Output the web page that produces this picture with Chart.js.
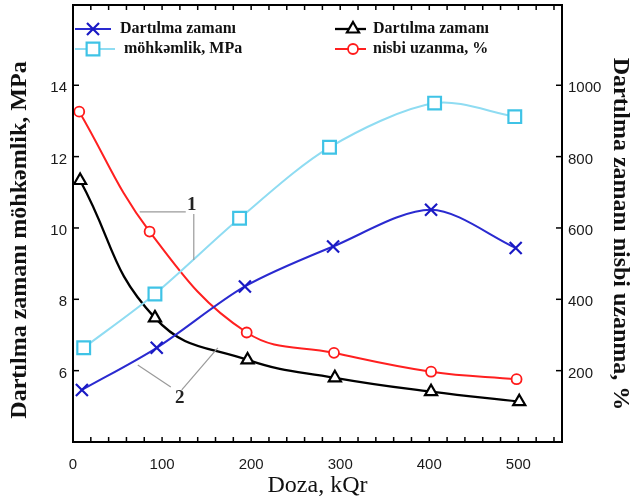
<!DOCTYPE html>
<html>
<head>
<meta charset="utf-8">
<script src="https://cdn.jsdelivr.net/npm/chart.js@4.4.0/dist/chart.umd.min.js"></script>
<style>
  html, body { margin: 0; padding: 0; background: #fff; }
  #wrap { width: 636px; height: 503px; }
</style>
</head>
<body>
<div id="wrap"><canvas id="chart" width="636" height="503"></canvas></div>
<script>
// dose (kQr) and readings for each curve
const doseBlue = [10, 94, 193, 292, 402, 497];
const strengthBlue = [5.46, 6.64, 8.36, 9.48, 10.51, 9.44];
const doseCyan = [12, 92, 187, 288, 406, 496];
const strengthCyan = [6.64, 8.15, 10.27, 12.26, 13.50, 13.12];
const doseBlack = [8, 92, 196, 294, 402, 501];
const elongBlack = [733, 348, 230, 180, 141, 113];
const doseRed = [7, 86, 195, 293, 402, 498];
const elongRed = [926, 590, 307, 250, 197, 176];

// tick labels
const xTicks = [0, 100, 200, 300, 400, 500];
const leftTicks = [6, 8, 10, 12, 14];
const rightTicks = [200, 400, 600, 800, 1000];

// curve labels "1" and "2" with their leader lines, in (dose, MPa)
const label1 = [133.4, 10.65];
const leaders1 = [[[74.9, 10.45], [126.6, 10.45]], [[135.6, 10.39], [135.6, 9.10]]];
const label2 = [119.9, 5.24];
const leaders2 = [[[72.7, 6.16], [109.8, 5.54]], [[122.1, 5.46], [162.6, 6.64]]];

const toPoints = (xs, ys) => xs.map((x, i) => ({x: x, y: ys[i]}));

const tickFont = {family: 'Liberation Sans', size: 15};
const serif = 'Liberation Serif';

// box round the plot with inward ticks
const framePlugin = {
  id: 'frame',
  afterDraw(chart) {
    const {ctx, chartArea: a, scales} = chart;
    ctx.save();
    ctx.strokeStyle = '#000';
    ctx.lineWidth = 1.5;
    for (let d = 20; d < scales.x.max; d += 20) {
      const px = scales.x.getPixelForValue(d);
      ctx.beginPath();
      ctx.moveTo(px, a.bottom); ctx.lineTo(px, a.bottom - 5);
      ctx.moveTo(px, a.top); ctx.lineTo(px, a.top + 5);
      ctx.stroke();
    }
    leftTicks.forEach(v => {
      const py = scales.y.getPixelForValue(v);
      ctx.beginPath(); ctx.moveTo(a.left, py); ctx.lineTo(a.left + 6, py); ctx.stroke();
    });
    rightTicks.forEach(v => {
      const py = scales.y1.getPixelForValue(v);
      ctx.beginPath(); ctx.moveTo(a.right, py); ctx.lineTo(a.right - 6, py); ctx.stroke();
    });
    ctx.lineWidth = 2;
    ctx.strokeRect(a.left, a.top, a.right - a.left, a.bottom - a.top);

    // vertical axis titles
    ctx.fillStyle = '#111';
    ctx.font = 'bold 24px ' + serif;
    ctx.textAlign = 'center';
    ctx.textBaseline = 'middle';
    ctx.save();
    ctx.translate(20, 240);
    ctx.rotate(-Math.PI / 2);
    ctx.fillText('Dartılma zamanı möhkəmlik, MPa', 0, 0);
    ctx.restore();
    ctx.save();
    ctx.translate(620, 234);
    ctx.rotate(Math.PI / 2);
    ctx.fillText('Dartılma zamanı nisbi uzanma, %', 0, 0);
    ctx.restore();
    ctx.restore();
  }
};

// "1" / "2" labels
const notePlugin = {
  id: 'notes',
  afterDatasetsDraw(chart) {
    const {ctx, scales} = chart;
    const px = p => [scales.x.getPixelForValue(p[0]), scales.y.getPixelForValue(p[1])];
    ctx.save();
    ctx.strokeStyle = '#9a9a9a';
    ctx.lineWidth = 1.2;
    leaders1.concat(leaders2).forEach(seg => {
      const a = px(seg[0]), b = px(seg[1]);
      ctx.beginPath(); ctx.moveTo(a[0], a[1]); ctx.lineTo(b[0], b[1]); ctx.stroke();
    });
    ctx.fillStyle = '#222';
    ctx.font = 'bold 19px ' + serif;
    ctx.textAlign = 'center';
    ctx.textBaseline = 'middle';
    let p = px(label1); ctx.fillText('1', p[0], p[1]);
    p = px(label2); ctx.fillText('2', p[0], p[1]);
    ctx.restore();
  }
};

// legend in two columns at the top of the plot
const legendPlugin = {
  id: 'boxLegend',
  afterDraw(chart) {
    const {ctx, chartArea: a} = chart;
    const slots = [
      {x: a.left + 2, y: a.top + 24, len: 36, tx: a.left + 47},
      {x: a.left + 2, y: a.top + 44, len: 40, tx: a.left + 51},
      {x: a.left + 262, y: a.top + 24, len: 31, tx: a.left + 300},
      {x: a.left + 262, y: a.top + 44, len: 31, tx: a.left + 300}
    ];
    ctx.save();
    chart.data.datasets.forEach((ds, i) => {
      const s = slots[i];
      ctx.strokeStyle = ds.borderColor;
      ctx.lineWidth = ds.borderWidth;
      ctx.beginPath(); ctx.moveTo(s.x, s.y); ctx.lineTo(s.x + s.len, s.y); ctx.stroke();
      ctx.strokeStyle = ds.pointBorderColor;
      ctx.fillStyle = ds.pointBackgroundColor;
      ctx.lineWidth = ds.pointBorderWidth;
      Chart.helpers.drawPoint(ctx, {pointStyle: ds.pointStyle, radius: ds.pointRadius, rotation: 0, borderWidth: ds.pointBorderWidth}, s.x + 18, s.y);
      ctx.fillStyle = '#111';
      ctx.font = 'bold 16px ' + serif;
      ctx.textAlign = 'left';
      ctx.textBaseline = 'middle';
      ctx.fillText(ds.label, s.tx, s.y);
    });
    ctx.restore();
  }
};

const noPad = s => { s.paddingTop = 0; s.paddingBottom = 0; };

const ctx = document.getElementById('chart');

new Chart(ctx, {
  type: 'line',
  data: {
    datasets: [
      {
        label: 'Dartılma zamanı',
        data: toPoints(doseBlue, strengthBlue),
        yAxisID: 'y',
        borderColor: '#2a2ad0', borderWidth: 2,
        pointStyle: 'crossRot', pointRadius: 8.5,
        pointBorderColor: '#1a1ac4', pointBackgroundColor: '#fff', pointBorderWidth: 2.2,
        tension: 0.3
      },
      {
        label: 'möhkəmlik, MPa',
        data: toPoints(doseCyan, strengthCyan),
        yAxisID: 'y',
        borderColor: '#8fdcf2', borderWidth: 2,
        pointStyle: 'rect', pointRadius: 9,
        pointBorderColor: '#3fc3e6', pointBackgroundColor: '#fff', pointBorderWidth: 2.2,
        tension: 0.3
      },
      {
        label: 'Dartılma zamanı',
        data: toPoints(doseBlack, elongBlack),
        yAxisID: 'y1',
        borderColor: '#000', borderWidth: 2.3,
        pointStyle: 'triangle', pointRadius: 7,
        pointBorderColor: '#000', pointBackgroundColor: '#fff', pointBorderWidth: 2.2,
        tension: 0.45
      },
      {
        label: 'nisbi uzanma, %',
        data: toPoints(doseRed, elongRed),
        yAxisID: 'y1',
        borderColor: '#ff2020', borderWidth: 2,
        pointStyle: 'circle', pointRadius: 5,
        pointBorderColor: '#ff1a1a', pointBackgroundColor: '#fff', pointBorderWidth: 1.8,
        tension: 0.4
      }
    ]
  },
  options: {
    responsive: false,
    animation: false,
    layout: { autoPadding: false, padding: { top: 5, right: 0, bottom: 0, left: 0 } },
    plugins: { legend: { display: false }, tooltip: { enabled: false } },
    scales: {
      x: {
        type: 'linear', min: 0, max: 549,
        afterBuildTicks: s => { s.ticks = xTicks.map(v => ({value: v})); },
        afterFit: s => { s.height = 61; },
        grid: { display: false, drawTicks: false },
        border: { display: false },
        ticks: { padding: 14, font: tickFont, color: '#1a1a1a', callback: v => String(v) },
        title: { display: true, text: 'Doza, kQr', color: '#111', font: {family: serif, size: 24}, padding: {top: 0, bottom: 3} }
      },
      y: {
        position: 'left', min: 4, max: 16.25,
        afterBuildTicks: s => { s.ticks = leftTicks.map(v => ({value: v})); },
        afterFit: s => { s.width = 73; noPad(s); },
        grid: { display: false, drawTicks: false },
        border: { display: false },
        ticks: { padding: 6, labelOffset: 3, font: tickFont, color: '#1a1a1a', callback: v => String(v) }
      },
      y1: {
        position: 'right', min: 0, max: 1225,
        afterBuildTicks: s => { s.ticks = rightTicks.map(v => ({value: v})); },
        afterFit: s => { s.width = 74; noPad(s); },
        grid: { display: false, drawTicks: false },
        border: { display: false },
        ticks: { padding: 6, labelOffset: 3, font: tickFont, color: '#1a1a1a', callback: v => String(v) }
      }
    }
  },
  plugins: [framePlugin, notePlugin, legendPlugin]
});
</script>
</body>
</html>
